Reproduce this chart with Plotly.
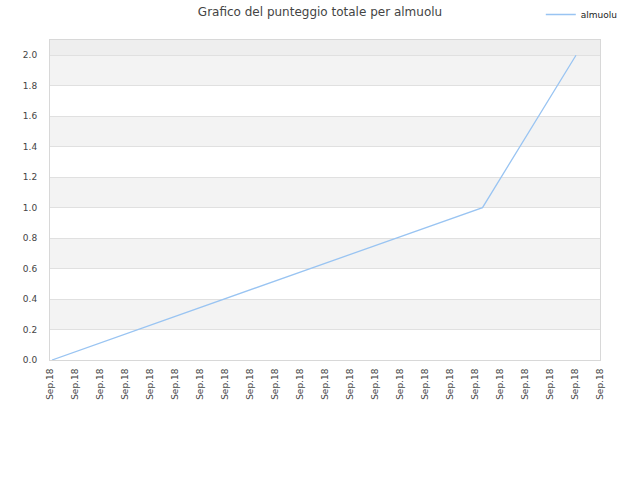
import plotly.graph_objects as go

# data (x in tick-slot units)
x_pos = [0.08, 17.3, 21.04]
scores = [0, 1, 2]
tick_labels = ["Sep.18"] * 23
y_ticks = [0.0, 0.2, 0.4, 0.6, 0.8, 1.0, 1.2, 1.4, 1.6, 1.8, 2.0]

fig = go.Figure()
fig.add_trace(
    go.Scatter(
        x=x_pos,
        y=scores,
        mode="lines",
        name="almuolu",
        line=dict(width=1.3, color="#99c4f2"),
    )
)

# alternating background bands
shapes = []
for i in range(len(y_ticks) - 1):
    if i % 2 == 1:
        shapes.append(dict(type="rect", xref="paper", yref="y", x0=0, x1=1,
                           y0=y_ticks[i], y1=y_ticks[i + 1],
                           fillcolor="#f3f3f3", line_width=0, layer="below"))
shapes.append(dict(type="rect", xref="paper", yref="y", x0=0, x1=1,
                   y0=2.0, y1=2.1, fillcolor="#eeeeee", line_width=0, layer="below"))

fig.update_layout(
    width=640,
    height=480,
    margin=dict(l=50, r=40, t=40, b=120, autoexpand=False),
    paper_bgcolor="white",
    plot_bgcolor="white",
    shapes=shapes,
    font=dict(family="DejaVu Sans", size=9, color="#444"),
    title=dict(text="Grafico del punteggio totale per almuolu", x=0.5, xanchor="center",
               y=0.985, yanchor="top", font=dict(size=12, color="#444")),
    showlegend=True,
    legend=dict(x=0.845, y=1.0, xref="container", yref="container", xanchor="left",
                yanchor="top", font=dict(size=9, color="#222"), bgcolor="rgba(0,0,0,0)",
                itemwidth=30),
)
fig.update_xaxes(
    range=[0, 22],
    tickmode="array",
    tickvals=list(range(len(tick_labels))),
    ticktext=tick_labels,
    tickangle=-90,
    showgrid=False,
    zeroline=False,
    showline=True,
    linecolor="#d8d8d8",
    mirror=True,
    ticks="",
    ticklabelstandoff=4,
    tickfont=dict(size=9, color="#444"),
)
fig.update_yaxes(
    range=[0, 2.1],
    tickvals=y_ticks,
    tickformat=".1f",
    showgrid=True,
    gridcolor="#e0e0e0",
    zeroline=False,
    showline=True,
    linecolor="#d8d8d8",
    mirror=True,
    ticks="",
    ticklabelstandoff=10,
    tickfont=dict(size=9, color="#444"),
)
fig.write_html("out.html", config={"displayModeBar": False},
               post_script="document.body.style.margin='0px';")
